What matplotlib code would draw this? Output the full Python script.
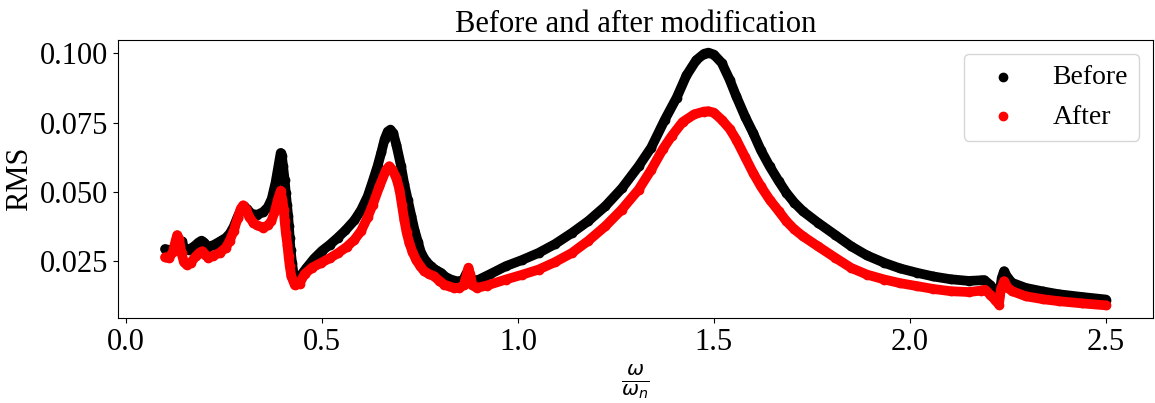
import matplotlib.pyplot as plt

# RMS response versus frequency ratio, original structure
x_before = [0.100, 0.115, 0.125, 0.135, 0.143, 0.151, 0.160, 0.175, 0.185, 0.193,
            0.200, 0.210, 0.225, 0.240, 0.255, 0.265, 0.275, 0.285, 0.295, 0.302,
            0.310, 0.320, 0.335, 0.350, 0.362, 0.372, 0.382, 0.390, 0.395, 0.398,
            0.401, 0.405, 0.408, 0.411, 0.414, 0.416, 0.418, 0.420, 0.424, 0.428,
            0.435, 0.445, 0.460, 0.480, 0.500, 0.520, 0.540, 0.560, 0.583, 0.600,
            0.617, 0.630, 0.642, 0.652, 0.660, 0.668, 0.675, 0.682, 0.690, 0.702,
            0.710, 0.719, 0.728, 0.736, 0.745, 0.753, 0.765, 0.778, 0.790, 0.804,
            0.815, 0.829, 0.846, 0.860, 0.868, 0.872, 0.878, 0.885, 0.901, 0.930,
            0.969, 1.010, 1.053, 1.095, 1.138, 1.180, 1.223, 1.265, 1.308, 1.340,
            1.375, 1.405, 1.430, 1.455, 1.475, 1.486, 1.500, 1.520, 1.540, 1.557,
            1.580, 1.600, 1.620, 1.642, 1.665, 1.685, 1.705, 1.727, 1.765, 1.810,
            1.850, 1.890, 1.935, 1.975, 2.019, 2.060, 2.104, 2.150, 2.180, 2.190,
            2.205, 2.220, 2.228, 2.234, 2.240, 2.250, 2.261, 2.295, 2.340, 2.380,
            2.440, 2.500]
rms_before = [0.0295, 0.0290, 0.0295, 0.0310, 0.0322, 0.0290, 0.0292, 0.0305, 0.0318, 0.0325,
              0.0318, 0.0302, 0.0310, 0.0322, 0.0335, 0.0350, 0.0375, 0.0410, 0.0440, 0.0448,
              0.0438, 0.0422, 0.0418, 0.0428, 0.0445, 0.0475, 0.0535, 0.0600, 0.0641, 0.0630,
              0.0593, 0.0545, 0.0497, 0.0455, 0.0413, 0.0377, 0.0335, 0.0293, 0.0245, 0.0203,
              0.0182, 0.0197, 0.0225, 0.0260, 0.0288, 0.0310, 0.0335, 0.0362, 0.0398, 0.0435,
              0.0485, 0.0540, 0.0593, 0.0645, 0.0690, 0.0718, 0.0725, 0.0712, 0.0670, 0.0593,
              0.0530, 0.0473, 0.0415, 0.0365, 0.0320, 0.0281, 0.0252, 0.0233, 0.0220, 0.0209,
              0.0195, 0.0185, 0.0178, 0.0182, 0.0205, 0.0215, 0.0195, 0.0180, 0.0185, 0.0205,
              0.0233, 0.0255, 0.0281, 0.0313, 0.0353, 0.0396, 0.0449, 0.0513, 0.0593, 0.0660,
              0.0761, 0.0840, 0.0920, 0.0975, 0.0998, 0.1002, 0.0995, 0.0965, 0.0905, 0.0845,
              0.0770, 0.0713, 0.0650, 0.0593, 0.0540, 0.0497, 0.0462, 0.0431, 0.0390, 0.0345,
              0.0305, 0.0272, 0.0245, 0.0225, 0.0209, 0.0196, 0.0186, 0.0180, 0.0182, 0.0183,
              0.0165, 0.0140, 0.0127, 0.0190, 0.0215, 0.0190, 0.0173, 0.0155, 0.0142, 0.0132,
              0.0122, 0.0113]

# RMS response after the modification
x_after = [0.100, 0.110, 0.120, 0.127, 0.131, 0.136, 0.142, 0.148, 0.155, 0.165,
           0.178, 0.188, 0.195, 0.203, 0.210, 0.222, 0.240, 0.255, 0.265, 0.275,
           0.285, 0.293, 0.299, 0.306, 0.315, 0.325, 0.335, 0.350, 0.362, 0.371,
           0.380, 0.388, 0.395, 0.399, 0.403, 0.405, 0.408, 0.412, 0.415, 0.418,
           0.422, 0.431, 0.443, 0.456, 0.475, 0.498, 0.520, 0.541, 0.563, 0.583,
           0.600, 0.617, 0.630, 0.647, 0.664, 0.672, 0.680, 0.690, 0.698, 0.704,
           0.710, 0.716, 0.723, 0.731, 0.740, 0.750, 0.761, 0.773, 0.786, 0.800,
           0.812, 0.825, 0.837, 0.850, 0.862, 0.869, 0.874, 0.878, 0.884, 0.895,
           0.920, 0.969, 1.010, 1.053, 1.095, 1.138, 1.180, 1.223, 1.265, 1.308,
           1.340, 1.370, 1.392, 1.420, 1.450, 1.475, 1.486, 1.500, 1.520, 1.540,
           1.557, 1.580, 1.600, 1.620, 1.642, 1.665, 1.685, 1.705, 1.727, 1.765,
           1.810, 1.850, 1.890, 1.935, 1.975, 2.019, 2.060, 2.104, 2.150, 2.180,
           2.192, 2.205, 2.218, 2.227, 2.232, 2.240, 2.250, 2.261, 2.295, 2.340,
           2.380, 2.440, 2.500]
rms_after = [0.0265, 0.0262, 0.0285, 0.0325, 0.0345, 0.0330, 0.0280, 0.0248, 0.0238, 0.0245,
             0.0268, 0.0282, 0.0287, 0.0275, 0.0263, 0.0270, 0.0282, 0.0300, 0.0325, 0.0360,
             0.0405, 0.0440, 0.0452, 0.0440, 0.0410, 0.0390, 0.0380, 0.0372, 0.0380, 0.0395,
             0.0430, 0.0475, 0.0505, 0.0473, 0.0437, 0.0395, 0.0353, 0.0311, 0.0269, 0.0233,
             0.0197, 0.0165, 0.0170, 0.0205, 0.0228, 0.0245, 0.0262, 0.0280, 0.0302, 0.0328,
             0.0360, 0.0410, 0.0455, 0.0521, 0.0580, 0.0593, 0.0580, 0.0550, 0.0509, 0.0455,
             0.0401, 0.0355, 0.0317, 0.0285, 0.0257, 0.0235, 0.0215, 0.0205, 0.0197, 0.0180,
             0.0167, 0.0160, 0.0155, 0.0155, 0.0165, 0.0200, 0.0228, 0.0205, 0.0165, 0.0155,
             0.0163, 0.0185, 0.0202, 0.0221, 0.0248, 0.0281, 0.0325, 0.0377, 0.0437, 0.0509,
             0.0580, 0.0655, 0.0701, 0.0752, 0.0780, 0.0790, 0.0791, 0.0786, 0.0760, 0.0728,
             0.0689, 0.0625, 0.0569, 0.0520, 0.0473, 0.0432, 0.0395, 0.0366, 0.0341, 0.0305,
             0.0263, 0.0227, 0.0203, 0.0185, 0.0172, 0.0161, 0.0151, 0.0143, 0.0140, 0.0145,
             0.0148, 0.0130, 0.0110, 0.0095, 0.0150, 0.0179, 0.0155, 0.0143, 0.0125, 0.0114,
             0.0107, 0.0099, 0.0092]

plt.rcParams["font.family"] = ["Liberation Serif", "DejaVu Serif"]

fig = plt.figure(figsize=(11.55, 4.03), dpi=100)
ax = fig.add_axes([118 / 1155, 85 / 403, 1035 / 1155, 278 / 403])

# thick line under the dots keeps the sampled curve continuous
ax.plot(x_before, rms_before, color="black", lw=7, solid_capstyle="round",
        solid_joinstyle="round", zorder=2)
ax.scatter(x_before, rms_before, s=36, color="black", label="Before", zorder=2)
ax.plot(x_after, rms_after, color="red", lw=7, solid_capstyle="round",
        solid_joinstyle="round", zorder=3)
ax.scatter(x_after, rms_after, s=36, color="red", label="After", zorder=3)

ax.set_title("Before and after modification", fontsize=22)
ax.set_ylabel("RMS", fontsize=22)
ax.set_xlabel(r"$\frac{\omega}{\omega_n}$", fontsize=21)
ax.set_xticks([0.0, 0.5, 1.0, 1.5, 2.0, 2.5])
ax.set_yticks([0.025, 0.050, 0.075, 0.100])
ax.tick_params(labelsize=22)
ax.legend(loc="upper right", fontsize=20)

fig.savefig("out.png", dpi=100, facecolor="white")
